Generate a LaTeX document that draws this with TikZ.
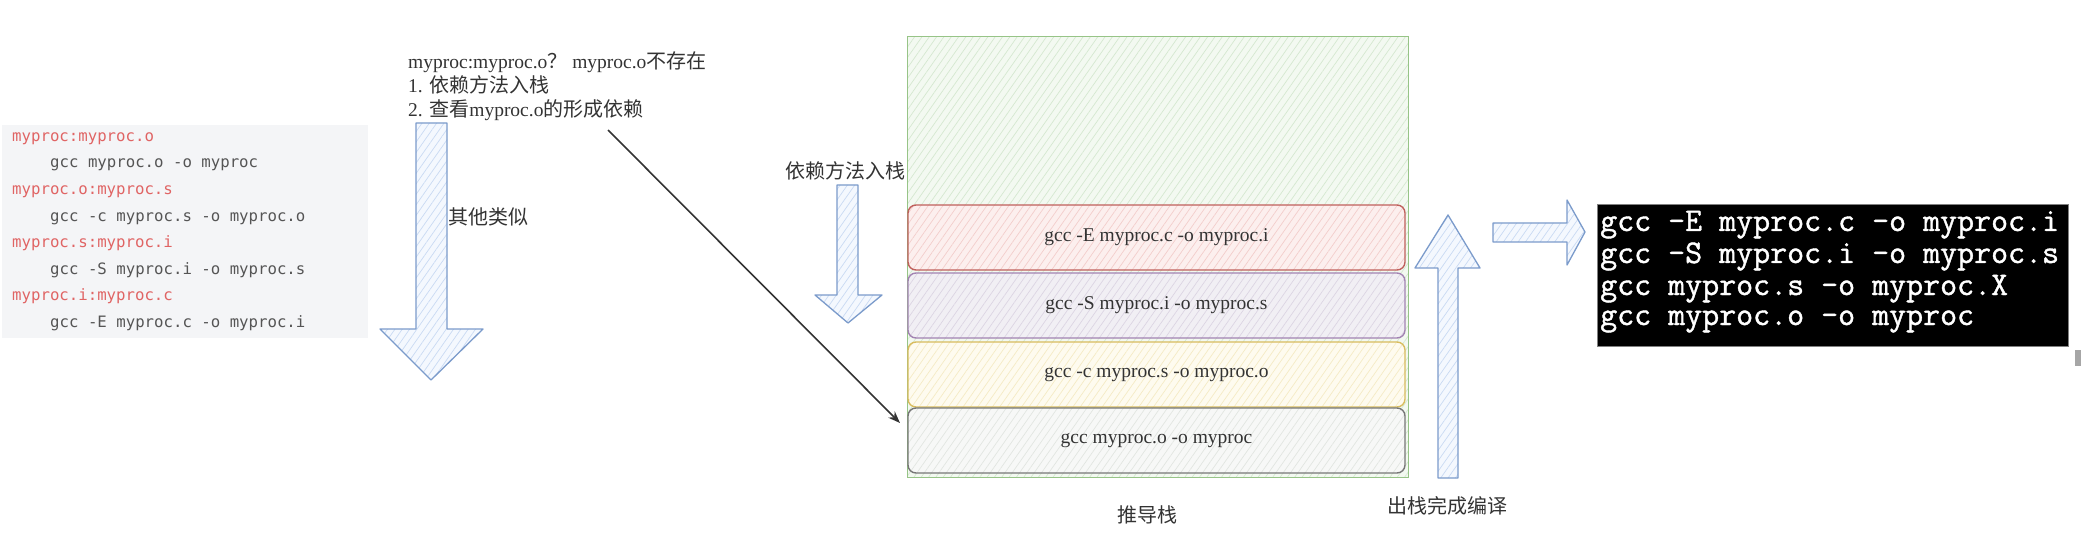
\documentclass[tikz,border=0pt]{standalone}
\usepackage{fontspec}
\setmainfont{Liberation Serif}
\newfontfamily\cjk{Noto Sans CJK SC}
\newfontfamily\codefont{DejaVu Sans Mono}
\newfontfamily\termfont[FakeBold=1.2]{Latin Modern Mono}
\usetikzlibrary{patterns.meta,arrows.meta}
\newcommand\myfs[1]{\fontsize{#1}{#1}\selectfont}
\definecolor{codebg}{HTML}{F4F5F7}
\definecolor{codered}{HTML}{E06464}
\definecolor{codegray}{HTML}{555555}
\definecolor{txtgray}{HTML}{333333}
\definecolor{arrowblue}{HTML}{7B9BCB}
\definecolor{arrowfill}{HTML}{F4F8FE}
\definecolor{arrowhatch}{HTML}{C9DAF3}
\definecolor{gstroke}{HTML}{97C487}
\definecolor{gfill}{HTML}{F3F9F1}
\definecolor{ghatch}{HTML}{D5E8D0}
\definecolor{rstroke}{HTML}{C0605C}
\definecolor{rfill}{HTML}{FCEFEE}
\definecolor{rhatch}{HTML}{F3CDCB}
\definecolor{pstroke}{HTML}{A283B2}
\definecolor{pfill}{HTML}{F1EFF4}
\definecolor{phatch}{HTML}{DCD5E3}
\definecolor{ystroke}{HTML}{D8BC5E}
\definecolor{yfill}{HTML}{FEFBEF}
\definecolor{yhatch}{HTML}{F5EBC5}
\definecolor{kstroke}{HTML}{777777}
\definecolor{kfill}{HTML}{F7F8F7}
\definecolor{khatch}{HTML}{E2E6E1}
\tikzset{
  hatch/.style 2 args={preaction={fill=#1},
    pattern={Lines[angle=55,distance=6pt,line width=0.7pt]}, pattern color=#2},
  blockarrow/.style={draw=arrowblue, line width=1.3pt, line join=round,
    hatch={arrowfill}{arrowhatch}},
  stackbox/.style 2 args={draw=#1, line width=1.4pt, rounded corners=8pt,
    minimum width=497pt, minimum height=65pt, inner sep=0pt,
    font=\myfs{19.5}, text=txtgray},
  notetxt/.style={anchor=base west, inner sep=0pt, font=\myfs{19.5}, text=txtgray},
  cjktxt/.style={anchor=base, inner sep=0pt, font=\cjk\myfs{20}, text=txtgray},
  codeline/.style={anchor=base west, inner sep=0pt, font=\codefont\myfs{15.7}},
  termline/.style={anchor=base west, inner sep=0pt, font=\termfont\myfs{33}, text=white},
  connector/.style={draw=txtgray, line width=1.6pt, -{Stealth[length=12pt,width=9pt]}}
}
\begin{document}
\begin{tikzpicture}[x=1pt,y=-1pt]
\useasboundingbox[fill=white] (0,0) rectangle (2081,548);

% left code block
\node[fill=codebg, minimum width=366pt, minimum height=213pt, anchor=north west, inner sep=0pt] (code) at (2,125) {};
\node[codeline, text=codered] (c1) at (12,142) {myproc:myproc.o};
\node[codeline, text=codegray] (c2) at (50,168) {gcc myproc.o -o myproc};
\node[codeline, text=codered] (c3) at (12,195) {myproc.o:myproc.s};
\node[codeline, text=codegray] (c4) at (50,222) {gcc -c myproc.s -o myproc.o};
\node[codeline, text=codered] (c5) at (12,248) {myproc.s:myproc.i};
\node[codeline, text=codegray] (c6) at (50,275) {gcc -S myproc.i -o myproc.s};
\node[codeline, text=codered] (c7) at (12,300) {myproc.i:myproc.c};
\node[codeline, text=codegray] (c8) at (50,327) {gcc -E myproc.c -o myproc.i};

% top note
\node[notetxt] (n1) at (408,69) {myproc:myproc.o{\cjk\myfs{20}？} myproc.o{\cjk\myfs{20}不存在}};
\node[notetxt] (n2) at (408,93) {1. {\cjk\myfs{20}依赖方法入栈}};
\node[notetxt] (n3) at (408,117) {2. {\cjk\myfs{20}查看}myproc.o{\cjk\myfs{20}的形成依赖}};

% left down arrow
\draw[blockarrow] (416,123) -- (447,123) -- (447,329) -- (483,329) -- (431,380)
  -- (380,329) -- (416,329) -- cycle;
\node[cjktxt] (other) at (488,225) {其他类似};

% middle down arrow
\node[cjktxt] (push) at (845,179) {依赖方法入栈};
\draw[blockarrow] (837,185) -- (858,185) -- (858,295) -- (882,295) -- (848,323)
  -- (815,295) -- (837,295) -- cycle;

% stack
\node[draw=gstroke, line width=1.4pt, hatch={gfill}{ghatch}, minimum width=501pt,
  minimum height=441pt, anchor=north west, inner sep=0pt] (stack) at (907,36) {};
\node[stackbox={rstroke}{}, hatch={rfill}{rhatch}] (b1) at (1156.5,237.5) {gcc -E myproc.c -o myproc.i};
\node[stackbox={pstroke}{}, hatch={pfill}{phatch}] (b2) at (1156.5,305.5) {gcc -S myproc.i -o myproc.s};
\node[stackbox={ystroke}{}, hatch={yfill}{yhatch}] (b3) at (1156.5,374.5) {gcc -c myproc.s -o myproc.o};
\node[stackbox={kstroke}{}, hatch={kfill}{khatch}] (b4) at (1156.5,440.5) {gcc myproc.o -o myproc};
\node[cjktxt] (stacklbl) at (1147,522) {推导栈};

% diagonal connector
\coordinate (dstart) at (608,130);
\coordinate (dend) at (900,423);
\draw[connector] (dstart) -- (dend);

% up arrow
\draw[blockarrow] (1438,478) -- (1458,478) -- (1458,268) -- (1480,268) -- (1448,215)
  -- (1415,268) -- (1438,268) -- cycle;
\node[cjktxt] (poplbl) at (1447,513) {出栈完成编译};

% right arrow
\draw[blockarrow] (1493,223) -- (1567,223) -- (1567,200) -- (1585,232) -- (1567,265)
  -- (1567,242) -- (1493,242) -- cycle;

% terminal
\node[draw=gray, fill=black, minimum width=471pt, minimum height=142pt,
  anchor=north west, inner sep=0pt] (term) at (1597,204) {};
\node[termline] (t1) at (1600,231) {gcc -E myproc.c -o myproc.i};
\node[termline] (t2) at (1600,263) {gcc -S myproc.i -o myproc.s};
\node[termline] (t3) at (1600,295) {gcc myproc.s -o myproc.X};
\node[termline] (t4) at (1600,325) {gcc myproc.o -o myproc};

% scrollbar bit
\fill[gray!70] (2075,350) rectangle (2081,366);
\end{tikzpicture}
\end{document}
